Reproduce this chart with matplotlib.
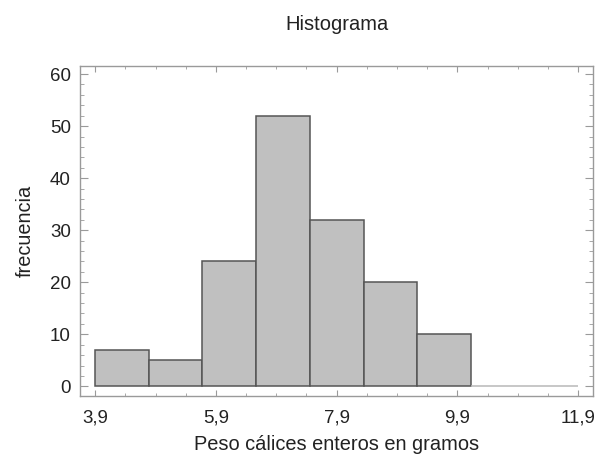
import matplotlib
matplotlib.use("Agg")
import matplotlib.pyplot as plt
import numpy as np
from matplotlib.ticker import FixedLocator, MultipleLocator, FuncFormatter

# histogram data (9 classes from 3,9 to 11,9)
bin_lo = 3.9
bin_hi = 11.9
counts = [7, 5, 24, 52, 32, 20, 10, 0, 0]
x_ticks = [3.9, 5.9, 7.9, 9.9, 11.9]
y_ticks = [0, 10, 20, 30, 40, 50, 60]

plt.rcParams['font.family'] = ['Liberation Sans', 'DejaVu Sans']

edges = np.linspace(bin_lo, bin_hi, len(counts) + 1)
widths = np.diff(edges)

fig = plt.figure(figsize=(5.99, 4.57), dpi=100)
ax = fig.add_axes([0.1336, 0.1341, 0.9905 - 0.1336, 0.8562 - 0.1341])

# empty classes show as a light line on the baseline
edge_cols = ['#555555' if c > 0 else '#b8b8b8' for c in counts]
ax.bar(edges[:-1], counts, width=widths, align='edge', color='#c0c0c0',
       edgecolor=edge_cols, linewidth=1.1)

ax.set_xlim(3.65, 12.15)
ax.set_ylim(-1.8, 61.6)

ax.xaxis.set_major_locator(FixedLocator(x_ticks))
ax.xaxis.set_minor_locator(FixedLocator(np.arange(3.9, 12.0, 0.5)))
ax.yaxis.set_major_locator(FixedLocator(y_ticks))
ax.yaxis.set_minor_locator(MultipleLocator(2))
ax.xaxis.set_major_formatter(FuncFormatter(lambda v, p: ('%.1f' % v).replace('.', ',')))

for sp in ax.spines.values():
    sp.set_color('#9a9a9a')
    sp.set_linewidth(1.0)

ax.tick_params(which='both', direction='in', top=True, right=True,
               color='#9a9a9a', labelcolor='#222222', labelsize=13.5)
ax.tick_params(axis='x', which='major', length=4.5, pad=10)
ax.tick_params(axis='x', which='minor', length=2.2)
ax.tick_params(axis='y', which='major', length=6, pad=6.5)
ax.tick_params(axis='y', which='minor', length=3)

ax.set_title('Histograma', fontsize=14.5, color='#222222', pad=26)
ax.set_xlabel('Peso cálices enteros en gramos', fontsize=14.4, color='#222222', labelpad=6)
ax.set_ylabel('frecuencia', fontsize=14.4, color='#222222', labelpad=11)

fig.savefig('out.png', dpi=100)
